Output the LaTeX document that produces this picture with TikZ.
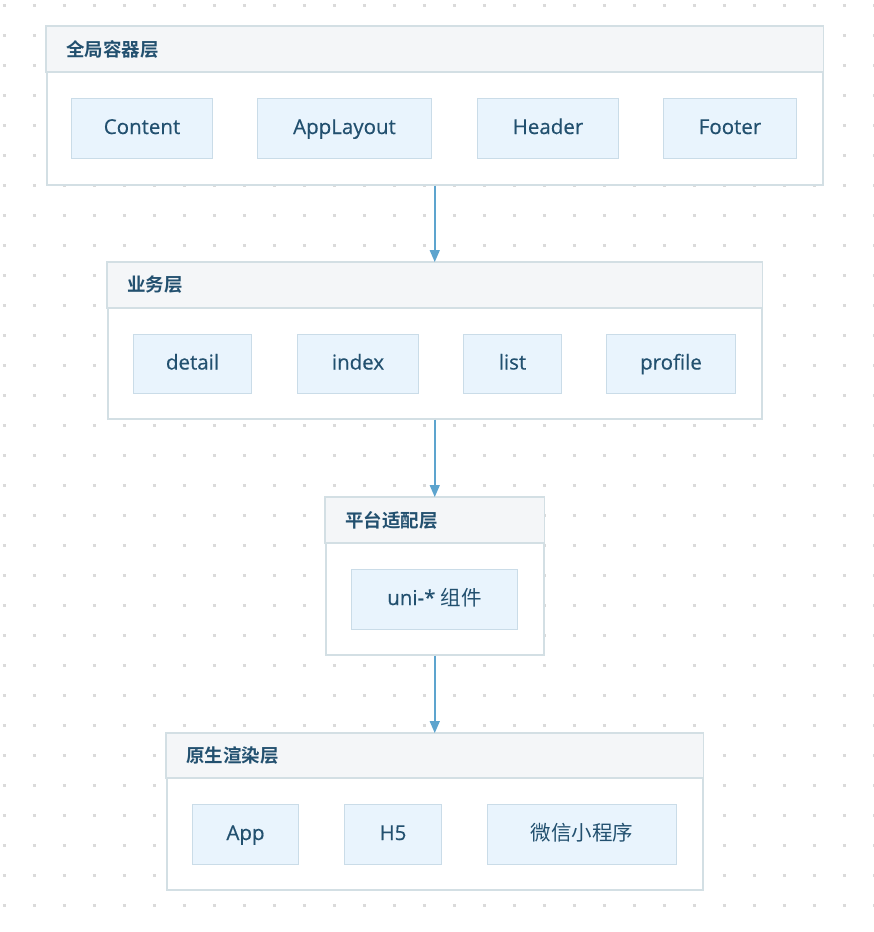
\documentclass[tikz,border=0pt]{standalone}
\usepackage{fontspec}
\setmainfont{Open Sans}
\newfontfamily\latinm[FakeBold=0.5]{Open Sans}
\newfontfamily\cjk{Noto Sans CJK SC}
\newfontfamily\cjkbold{Noto Sans CJK SC Bold}
\usetikzlibrary{arrows.meta,calc}
\definecolor{txt}{HTML}{22506F}
\definecolor{layerborder}{HTML}{D3DFE4}
\definecolor{hdrfill}{HTML}{F4F6F8}
\definecolor{childfill}{HTML}{E9F4FD}
\definecolor{childborder}{HTML}{CADCE8}
\definecolor{arrowc}{HTML}{5DA4CE}
\definecolor{dotc}{HTML}{DADADA}
\tikzset{
  layer/.style={draw=layerborder, line width=1.5pt, fill=white, rectangle, inner sep=0pt, anchor=north west},
  hdr/.style={fill=hdrfill, draw=layerborder, line width=1.5pt},
  ltitle/.style={anchor=west, text=txt, font=\cjkbold\fontsize{18.5}{22}\selectfont, inner sep=0pt},
  child/.style={draw=childborder, line width=1pt, fill=childfill, rectangle, inner sep=0pt, anchor=north west, text=txt, font=\latinm\fontsize{20.5}{24}\selectfont, text height=15pt, text depth=4pt},
  arr/.style={draw=arrowc, line width=1.5pt, -{Triangle[length=12pt,width=10pt]}}
}
\begin{document}
\begin{tikzpicture}[x=1pt,y=-1pt]
\useasboundingbox (0,0) rectangle (874,932);
\fill[white] (0,0) rectangle (874,932);
% dot grid
\foreach \i in {0,...,29} {
  \foreach \j in {0,...,30} {
    \fill[dotc] ({4+30*\i-1.5},{5+30*\j-1.5}) rectangle ++(3,3);
  }
}
% Layer 1
\node[layer, minimum width=776pt, minimum height=158pt] (L1) at (46,26) {};
\draw[hdr] (L1.north west) rectangle ([yshift=-46pt]L1.north east);
\node[ltitle] (T1) at ([xshift=20pt,yshift=-23pt]L1.north west) {全局容器层};
\node[child, minimum width=141pt, minimum height=60pt] (c11) at (71,98) {Content};
\node[child, minimum width=174pt, minimum height=60pt] (c12) at (257,98) {AppLayout};
\node[child, minimum width=141pt, minimum height=60pt] (c13) at (477,98) {Header};
\node[child, minimum width=133pt, minimum height=60pt] (c14) at (663,98) {Footer};
% Layer 2
\node[layer, minimum width=654pt, minimum height=156pt] (L2) at (107,262) {};
\draw[hdr] (L2.north west) rectangle ([yshift=-46pt]L2.north east);
\node[ltitle] (T2) at ([xshift=20pt,yshift=-23pt]L2.north west) {业务层};
\node[child, minimum width=118pt, minimum height=59pt] (c21) at (133,334) {detail};
\node[child, minimum width=121pt, minimum height=59pt] (c22) at (297,334) {index};
\node[child, minimum width=98pt, minimum height=59pt] (c23) at (463,334) {list};
\node[child, minimum width=129pt, minimum height=59pt] (c24) at (606,334) {profile};
% Layer 3
\node[layer, minimum width=218pt, minimum height=157pt] (L3) at (325,497) {};
\draw[hdr] (L3.north west) rectangle ([yshift=-46pt]L3.north east);
\node[ltitle] (T3) at ([xshift=20pt,yshift=-23pt]L3.north west) {平台适配层};
\node[child, minimum width=166pt, minimum height=60pt] (c31) at (351,569) {uni-* {\cjk 组件}};
% Layer 4
\node[layer, minimum width=536pt, minimum height=156pt] (L4) at (166,733) {};
\draw[hdr] (L4.north west) rectangle ([yshift=-45pt]L4.north east);
\node[ltitle] (T4) at ([xshift=20pt,yshift=-23pt]L4.north west) {原生渲染层};
\node[child, minimum width=106pt, minimum height=60pt] (c41) at (192,804) {App};
\node[child, minimum width=97pt, minimum height=60pt] (c42) at (344,804) {H5};
\node[child, minimum width=189pt, minimum height=60pt, font=\cjk\fontsize{20.5}{24}\selectfont] (c43) at (487,804) {微信小程序};
% arrows
\draw[arr] (L1.south) -- (L2.north);
\draw[arr] (L2.south) -- (L3.north);
\draw[arr] (L3.south) -- (L4.north);
\end{tikzpicture}
\end{document}
